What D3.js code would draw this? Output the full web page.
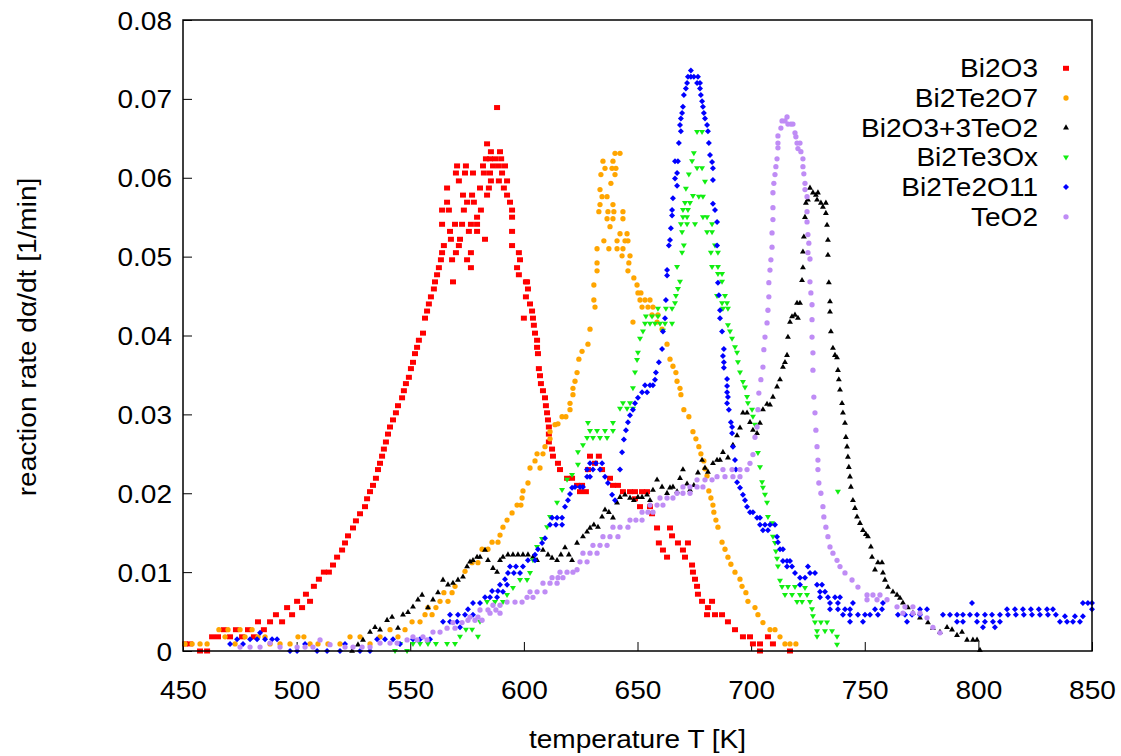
<!DOCTYPE html>
<html>
<head>
<meta charset="utf-8">
<script src="https://cdn.jsdelivr.net/npm/d3@7"></script>
<style>
  html, body { margin: 0; padding: 0; background: #fff; }
  svg { display: block; }
  text { font-family: "Liberation Sans", Arial, Helvetica, sans-serif; fill: #000; }
</style>
</head>
<body>
<svg id="chart" width="1121" height="756"></svg>
<script>
// ---------------- DATA ----------------
const xTicks = [450, 500, 550, 600, 650, 700, 750, 800, 850];
const yTicks = [0, 0.01, 0.02, 0.03, 0.04, 0.05, 0.06, 0.07, 0.08];
const xTitle = "temperature T [K]";
const yTitle = "reaction rate dα/dt [1/min]";
const seriesNames = ["Bi2O3", "Bi2Te2O7", "Bi2O3+3TeO2", "Bi2Te3Ox", "Bi2Te2O11", "TeO2"];

// [T in K, rate in 1/min]
const bi2o3 = [[450.9,0.0009],[453.1,0.0009],[457.5,0],[460.6,0],[462.8,0.0018],[465.4,0.0018],[468.0,0.0027],[470.7,0.0018],[473.3,0.0027],[476.0,0.0018],[478.6,0.0027],[481.2,0.0018],[483.0,0.0037],[485.6,0.0027],[488.3,0.0037],[490.9,0.0046],[493.6,0.0037],[495.8,0.0055],[498.0,0.0046],[500.2,0.0063],[502.4,0.0055],[504.1,0.0072],[505.9,0.0063],[507.6,0.0082],[509.8,0.0091],[512.0,0.0100],[514.2,0.0100],[516.0,0.0109],[517.8,0.0119],[520.0,0.0128],[521.3,0.0137],[522.6,0.0146],[524.8,0.0156],[526.1,0.0165],[527.9,0.0174],[530.1,0.0183],[531.0,0.0193],[532.3,0.0202],[533.6,0.0210],[534.9,0.0219],[535.8,0.0230],[536.7,0.0238],[537.6,0.0247],[538.4,0.0256],[539.3,0.0265],[540.2,0.0275],[541.1,0.0284],[542.4,0.0293],[543.7,0.0302],[544.6,0.0311],[546.4,0.0321],[547.2,0.0330],[548.1,0.0339],[549.4,0.0347],[550.3,0.0358],[551.2,0.0366],[552.1,0.0377],[553.0,0.0385],[553.8,0.0394],[555.6,0.0403],[556.5,0.0422],[557.4,0.0431],[558.2,0.0440],[559.1,0.0449],[560.4,0.0459],[560.9,0.0468],[561.8,0.0477],[562.6,0.0486],[563.5,0.0496],[564.0,0.0505],[564.8,0.0514],
[567.9,0.0522],[571.9,0.0522],[582.9,0.0522],[571.4,0.0514],[594.8,0.0514],[570.1,0.0505],[576.7,0.0505],[597.8,0.0505],[568.4,0.0496],[575.0,0.0496],[598.3,0.0496],[576.7,0.0486],[597.0,0.0486],[597.8,0.0477],[568.8,0.0468],[600.9,0.0468],[601.8,0.0459],[567.5,0.0532],[575.8,0.0532],[579.4,0.0532],[594.8,0.0532],[564.0,0.0541],[569.7,0.0541],[572.8,0.0541],[576.7,0.0541],[579.4,0.0541],[579.4,0.0550],[594.8,0.0550],[564.0,0.0559],[567.0,0.0559],[573.6,0.0559],[581.1,0.0559],[594.8,0.0559],[566.2,0.0569],[575.0,0.0569],[578.0,0.0569],[593.9,0.0569],[573.2,0.0578],[577.2,0.0578],[583.8,0.0578],[592.6,0.0578],[566.2,0.0587],[580.7,0.0587],[584.6,0.0587],[591.2,0.0587],[571.4,0.0596],[585.5,0.0596],[589.0,0.0596],[592.6,0.0596],[570.1,0.0606],[574.1,0.0606],[577.6,0.0606],[582.4,0.0606],[585.1,0.0606],[590.4,0.0606],[570.6,0.0615],[574.5,0.0615],[582.0,0.0615],[586.4,0.0615],[589.0,0.0615],[591.7,0.0615],[583.3,0.0624],[585.1,0.0624],[587.3,0.0624],[590.0,0.0624],[585.5,0.0633],[589.5,0.0633],[583.8,0.0643],[588.2,0.0689],
[601.4,0.0468],[600.9,0.0449],[602.7,0.0440],[603.6,0.0431],[600.0,0.0422],[604.0,0.0422],[604.4,0.0413],[604.9,0.0403],[605.8,0.0394],[605.8,0.0385],[606.2,0.0377],[606.6,0.0358],[607.1,0.0349],[607.5,0.0339],[608.4,0.0330],[609.3,0.0321],[609.7,0.0311],[610.2,0.0302],[610.6,0.0293],[611.0,0.0284],[611.0,0.0275],[611.0,0.0265],[612.4,0.0256],[612.8,0.0247],[615.0,0.0238],[615.9,0.0230],[619.0,0.0219],[621.2,0.0219],[623.4,0.0210],[625.6,0.0210],[624.7,0.0202],[627.3,0.0202],[629.1,0.0247],[633.0,0.0247],[631.3,0.0238],[628.2,0.0230],[634.4,0.0230],[637.9,0.0219],[639.2,0.0210],[641.4,0.0210],[643.6,0.0202],[646.7,0.0202],[648.9,0.0202],[652.0,0.0202],[654.2,0.0202],[648.9,0.0193],[651.1,0.0183],[655.5,0.0183],[656.4,0.0174],[658.6,0.0156],[664.3,0.0156],[665.2,0.0146],[659.4,0.0137],[667.8,0.0137],[672.2,0.0137],[661.2,0.0128],[670.0,0.0128],[663.0,0.0119],[670.9,0.0119],[674.0,0.0109],[674.4,0.0100],[675.3,0.0091],[676.2,0.0082],[676.6,0.0072],[678.4,0.0063],[682.8,0.0063],[681.0,0.0055],[680.6,0.0046],[684.1,0.0046],[687.2,0.0046],[689.8,0.0037],[692.9,0.0027],[696.4,0.0018],[699.5,0.0018],[707.4,0.0018],[700.8,0.0009],[703.9,0.0009],[709.6,0.0009],[703.9,0],[717.1,0]];

const bi2te2o7 = [[450.9,0.0009],[454.0,0.0009],[457.5,0.0009],[460.6,0.0009],[465.8,0.0027],[468.5,0.0018],[469.8,0.0027],[472.9,0.0009],[475.1,0.0027],[477.3,0.0018],[480.4,0.0027],[483.0,0.0018],[486.1,0.0018],[488.3,0.0009],[492.7,0.0009],[497.1,0.0009],[500.6,0.0018],[503.2,0.0018],[505.9,0.0009],[509.4,0.0009],[513.8,0.0009],[519.1,0.0009],[523.5,0.0018],[527.9,0.0018],[532.3,0.0009],[536.7,0.0018],[541.1,0.0027],[544.6,0.0018],[547.7,0.0027],[550.8,0.0037],[554.3,0.0037],[556.5,0.0046],[559.6,0.0046],[557.8,0.0055],[561.3,0.0055],[563.1,0.0063],[566.6,0.0063],[564.8,0.0074],[568.4,0.0074],[569.7,0.0082],[574.1,0.0101],[577.2,0.0112],[579.8,0.0112],[581.6,0.0129],[584.2,0.0129],[586.0,0.0138],[588.6,0.0138],[589.5,0.0147],[590.8,0.0157],[592.6,0.0166],[594.8,0.0175],[597.0,0.0185],[598.7,0.0185],[599.2,0.0194],[599.6,0.0203],[601.8,0.0213],[602.7,0.0232],[604.9,0.0241],[605.8,0.0250],[607.1,0.0232],[608.4,0.0250],[609.3,0.0259],[611.5,0.0278],[611.5,0.0269],[613.7,0.0287],[615.0,0.0288],[616.8,0.0297],[618.5,0.0297],[620.3,0.0306],[620.3,0.0314],[621.6,0.0325],[621.6,0.0333],[622.5,0.0342],[623.4,0.0353],[624.2,0.0370],[625.6,0.0380],[628.2,0.0389],[629.1,0.0408],[630.8,0.0445],[630.8,0.0464],[631.3,0.0436],[632.2,0.0482],[632.2,0.0492],[632.2,0.0510],[633.0,0.0557],[633.5,0.0566],[633.5,0.0585],[633.9,0.0604],[634.4,0.0576],[634.8,0.0621],[635.2,0.0520],[635.7,0.0612],[636.6,0.0548],[636.6,0.0576],[637.0,0.0557],[637.4,0.0510],[637.9,0.0538],[638.3,0.0593],[638.8,0.0612],[639.2,0.0621],[639.2,0.0566],[639.2,0.0548],[639.6,0.0557],[640.1,0.0631],[640.1,0.0604],[640.5,0.0612],[641.0,0.0520],[641.0,0.0510],[642.3,0.0631],[642.3,0.0529],[643.2,0.0501],[643.6,0.0557],[643.6,0.0548],[643.6,0.0510],[644.5,0.0520],[645.4,0.0529],[645.8,0.0520],[645.8,0.0482],[646.2,0.0492],[646.7,0.0501],[648.0,0.0417],[648.4,0.0473],[649.8,0.0464],[650.2,0.0454],[651.5,0.0454],[651.1,0.0445],[653.3,0.0445],[655.5,0.0445],[652.0,0.0436],[654.6,0.0436],[656.8,0.0436],[656.4,0.0426],[659.0,0.0426],[658.6,0.0417],[660.8,0.0408],[663.0,0.0389],[664.3,0.0370],[665.6,0.0361],[666.9,0.0353],[667.4,0.0342],[668.7,0.0333],[669.1,0.0325],[670.4,0.0306],[672.6,0.0297],[674.4,0.0278],[675.7,0.0269],[677.0,0.0259],[677.9,0.0250],[679.2,0.0241],[679.7,0.0231],[680.6,0.0222],[681.4,0.0203],[682.3,0.0194],[683.2,0.0185],[683.6,0.0176],[684.5,0.0166],[685.4,0.0157],[687.2,0.0138],[688.5,0.0129],[689.8,0.0119],[691.1,0.0110],[692.9,0.0100],[695.1,0.0091],[696.0,0.0082],[697.7,0.0074],[698.6,0.0063],[701.7,0.0055],[703.0,0.0046],[705.2,0.0036],[708.3,0.0027],[710.5,0.0027],[712.7,0.0018],[714.9,0.0009],[717.1,0.0009],[719.7,0.0009]];

const bi2o3_3teo2 = [[524.4,0],[527.0,0.0008],[529.2,0.0014],[532.3,0.0024],[534.5,0.0030],[536.7,0.0027],[539.8,0.0039],[542.0,0.0043],[544.6,0.0029],[546.8,0.0046],[549.0,0.0049],[551.2,0.0056],[553.4,0.0065],[555.2,0.0071],[557.8,0.0055],[560.0,0.0065],[562.2,0.0074],[564.4,0.0090],[566.6,0.0084],[568.8,0.0086],[571.0,0.0090],[573.2,0.0094],[575.0,0.0107],[576.3,0.0113],[577.6,0.0115],[579.4,0.0119],[580.7,0.0119],[582.9,0.0128],[584.2,0.0115],[586.4,0.0105],[588.2,0.0100],[589.5,0.0115],[590.8,0.0119],[593.0,0.0122],[595.2,0.0122],[597.4,0.0122],[599.6,0.0122],[601.8,0.0122],[604.0,0.0119],[605.8,0.0115],[608.4,0.0128],[610.6,0.0122],[612.4,0.0118],[614.6,0.0115],[616.3,0.0122],[618.1,0.0131],[619.8,0.0122],[621.2,0.0115],[623.4,0.0137],[626.0,0.0145],[627.8,0.0151],[629.1,0.0156],[630.8,0.0160],[632.6,0.0157],[634.4,0.0170],[635.7,0.0179],[637.4,0.0176],[639.2,0.0169],[641.0,0.0188],[642.3,0.0195],[644.5,0.0198],[646.7,0.0194],[648.4,0.0191],[650.2,0.0195],[652.0,0.0195],[654.2,0.0198],[655.5,0.0191],[656.8,0.0204],[658.6,0.0217],[660.8,0.0208],[663.0,0.0200],[664.3,0.0207],[665.6,0.0208],[667.4,0.0202],[668.7,0.0219],[670.0,0.0230],[671.8,0.0212],[673.1,0.0204],[674.8,0.0210],[676.6,0.0226],[678.4,0.0242],[679.7,0.0232],[681.0,0.0227],[683.2,0.0238],[685.0,0.0242],[686.3,0.0242],[687.6,0.0252],[689.8,0.0245],[692.0,0.0261],[693.8,0.0273],[695.1,0.0283],[696.4,0.0302],[698.2,0.0302],[699.5,0.0290],[700.8,0.0280],[702.6,0.0276],[703.9,0.0289],[705.2,0.0306],[707.0,0.0313],[708.3,0.0312],[709.6,0.0322],[711.4,0.0335],[712.7,0.0344],[714.0,0.0360],[714.9,0.0366],[715.8,0.0375],[716.2,0.0398],[717.1,0.0417],[718.0,0.0424],[719.3,0.0426],[720.6,0.0422],[720.2,0.0441],[721.5,0.0441],[722.4,0.0470],[722.8,0.0486],[722.8,0.0506],[723.2,0.0525],[723.7,0.0550],[724.1,0.0568],[725.0,0.0572],[725.9,0.0587],[727.2,0.0581],[728.5,0.0578],[729.4,0.0581],[729.0,0.0572],[730.7,0.0568],[731.6,0.0563],[732.9,0.0568],[732.9,0.0555],[733.4,0.0540],[733.8,0.0521],[733.8,0.0502],[734.2,0.0467],[734.7,0.0443],[734.7,0.0430],[735.1,0.0405],[736.0,0.0384],[736.9,0.0375],[737.8,0.0372],[738.2,0.0356],[738.6,0.0344],[739.1,0.0331],[740.0,0.0314],[740.4,0.0302],[741.3,0.0289],[741.7,0.0271],[742.2,0.0259],[742.6,0.0246],[743.0,0.0233],[743.5,0.0221],[743.9,0.0208],[744.8,0.0191],[745.7,0.0181],[746.6,0.0170],[747.9,0.0162],[749.2,0.0153],[750.5,0.0148],[751.4,0.0145],[752.7,0.0132],[753.2,0.0119],[754.5,0.0103],[755.8,0.0112],[757.6,0.0112],[758.0,0.0099],[758.9,0.0090],[760.2,0.0081],[762.4,0.0075],[764.2,0.0071],[765.5,0.0067],[766.8,0.0061],[769.0,0.0055],[771.2,0.0048],[774.3,0.0042],[777.8,0.0036],[780.0,0.0029],[783.1,0.0024],[786.2,0.0030],[788.4,0.0027],[790.6,0.0020],[792.8,0.0024],[795.0,0.0014],[797.6,0.0014],[799.4,0.0014],[800.7,0.0001]];

const bi2te3ox = [[543.3,0],[545.5,0.0009],[548.6,0],[551.2,0.0009],[554.3,0.0009],[557.8,0.0009],[561.3,0.0009],[566.2,0.0009],[569.7,0.0009],[571.9,0.0018],[574.5,0.0027],[577.2,0.0027],[579.8,0.0018],[580.7,0.0037],[583.8,0.0062],[587.3,0.0062],[590.8,0.0062],[592.6,0.0071],[595.2,0.0080],[598.3,0.0090],[601.4,0.0090],[602.7,0.0099],[604.0,0.0115],[605.8,0.0132],[608.0,0.0142],[610.2,0.0157],[611.5,0.0170],[614.6,0.0188],[616.8,0.0204],[619.0,0.0217],[621.2,0.0223],[623.8,0.0236],[623.8,0.0252],[626.0,0.0261],[627.8,0.0270],[630.4,0.0270],[633.5,0.0270],[636.6,0.0270],[629.1,0.0279],[632.2,0.0279],[635.7,0.0279],[639.2,0.0279],[628.2,0.0289],[639.2,0.0289],[642.3,0.0307],[645.4,0.0307],[648.0,0.0307],[643.6,0.0314],[646.7,0.0314],[648.0,0.0333],[648.9,0.0353],[649.8,0.0369],[650.2,0.0378],[651.1,0.0396],[652.4,0.0405],[653.3,0.0415],[655.5,0.0415],[657.7,0.0415],[659.9,0.0415],[662.1,0.0415],[665.2,0.0415],[653.7,0.0424],[656.4,0.0424],[659.0,0.0424],[661.2,0.0406],[659.0,0.0434],[662.5,0.0434],[665.2,0.0434],[666.5,0.0441],[666.9,0.0450],[667.8,0.0459],[668.7,0.0468],[667.4,0.0487],[669.6,0.0505],[670.4,0.0514],[669.6,0.0531],[669.1,0.0541],[671.8,0.0541],[675.3,0.0541],[670.0,0.0550],[671.8,0.0550],[670.0,0.0559],[672.2,0.0559],[670.9,0.0568],[673.1,0.0568],[674.4,0.0577],[671.3,0.0586],[672.6,0.0604],[674.0,0.0621],[674.8,0.0631],[676.2,0.0612],[678.4,0.0612],[676.2,0.0658],[678.4,0.0658],[677.0,0.0576],[678.8,0.0576],[679.7,0.0595],[678.8,0.0550],[680.6,0.0550],[682.8,0.0541],[680.6,0.0531],[682.8,0.0531],[684.1,0.0514],[682.3,0.0505],[685.4,0.0505],[682.8,0.0487],[685.4,0.0487],[685.4,0.0478],[687.2,0.0478],[687.2,0.0468],[685.0,0.0450],[688.5,0.0450],[687.2,0.0441],[689.4,0.0441],[687.6,0.0434],[689.8,0.0434],[689.8,0.0413],[690.7,0.0405],[691.6,0.0396],[692.9,0.0385],[693.8,0.0378],[694.2,0.0366],[695.1,0.0353],[696.4,0.0341],[697.3,0.0334],[698.2,0.0322],[698.6,0.0314],[700.4,0.0306],[700.8,0.0297],[701.7,0.0287],[703.0,0.0251],[703.9,0.0233],[704.8,0.0214],[705.2,0.0207],[706.1,0.0198],[707.0,0.0188],[707.4,0.0170],[709.2,0.0162],[709.6,0.0145],[710.5,0.0137],[710.9,0.0126],[711.4,0.0117],[711.8,0.0107],[712.7,0.0089],[713.6,0.0081],[716.2,0.0081],[719.3,0.0081],[714.9,0.0071],[718.0,0.0071],[721.5,0.0071],[720.2,0.0062],[722.4,0.0062],[723.7,0.0080],[724.6,0.0071],[725.9,0.0062],[726.8,0.0053],[727.2,0.0044],[728.1,0.0036],[730.7,0.0036],[733.4,0.0036],[729.0,0.0025],[732.5,0.0025],[735.6,0.0025],[729.0,0.0018],[737.8,0.0018],[737.8,0.0008],[738.2,0.0202]];

const bi2te2o11 = [[470.7,0.0009],[473.8,0.0015],[476.4,0.0009],[479.5,0.0015],[482.6,0.0015],[483.9,0.0023],[486.1,0.0015],[489.2,0.0015],[491.4,0.0015],[497.1,0],[500.2,0],[503.7,0.0009],[509.0,0],[513.4,0],[519.1,0],[521.3,0.0009],[527.9,0],[532.3,0],[535.4,0.0015],[538.9,0.0015],[542.4,0.0015],[545.5,0.0009],[551.2,0.0015],[554.3,0.0015],[558.7,0.0015],[564.4,0.0037],[567.5,0.0037],[570.6,0.0037],[567.5,0.0046],[571.0,0.0046],[574.1,0.0046],[577.6,0.0046],[571.9,0.0030],[575.4,0.0053],[577.6,0.0061],[580.7,0.0061],[582.9,0.0068],[585.1,0.0068],[588.2,0.0068],[586.0,0.0076],[588.6,0.0076],[590.8,0.0075],[589.5,0.0084],[592.6,0.0084],[591.7,0.0091],[593.0,0.0099],[595.6,0.0099],[598.3,0.0099],[593.9,0.0107],[596.5,0.0107],[599.6,0.0107],[601.8,0.0115],[604.9,0.0115],[604.9,0.0122],[606.2,0.0129],[608.0,0.0137],[609.3,0.0143],[611.5,0.0160],[614.1,0.0160],[616.8,0.0160],[612.4,0.0169],[614.6,0.0169],[616.8,0.0169],[618.1,0.0183],[619.4,0.0191],[620.3,0.0199],[621.2,0.0207],[622.5,0.0208],[624.7,0.0208],[626.0,0.0208],[627.8,0.0221],[629.1,0.0221],[627.8,0.0230],[630.4,0.0230],[633.5,0.0230],[629.1,0.0238],[631.7,0.0238],[634.4,0.0238],[635.7,0.0221],[637.0,0.0213],[638.8,0.0198],[640.1,0.0191],[642.3,0.0230],[643.2,0.0252],[644.0,0.0268],[644.9,0.0280],[645.8,0.0290],[646.7,0.0299],[648.0,0.0306],[648.9,0.0314],[650.2,0.0321],[652.0,0.0328],[654.2,0.0328],[653.3,0.0337],[655.5,0.0337],[656.8,0.0337],[657.7,0.0344],[658.1,0.0353],[659.4,0.0366],[660.8,0.0383],[661.2,0.0405],[662.1,0.0422],[662.5,0.0445],[663.0,0.0476],[663.0,0.0483],[663.8,0.0514],[664.3,0.0521],[664.7,0.0536],[665.2,0.0552],[665.2,0.0559],[665.6,0.0574],[666.5,0.0599],[667.4,0.0606],[667.4,0.0590],[666.5,0.0621],[667.8,0.0621],[668.2,0.0644],[668.7,0.0667],[669.1,0.0659],[669.1,0.0675],[669.6,0.0682],[670.0,0.0690],[670.4,0.0705],[671.3,0.0713],[671.8,0.0720],[672.2,0.0728],[673.5,0.0728],[674.8,0.0728],[676.6,0.0728],[673.5,0.0736],[676.2,0.0720],[677.5,0.0720],[677.5,0.0713],[677.9,0.0705],[678.4,0.0697],[678.8,0.0690],[679.2,0.0682],[679.7,0.0675],[680.6,0.0667],[681.0,0.0659],[681.4,0.0644],[681.9,0.0629],[682.8,0.0620],[683.2,0.0612],[683.2,0.0597],[683.2,0.0567],[684.1,0.0559],[685.0,0.0544],[685.0,0.0514],[685.4,0.0467],[685.8,0.0451],[686.3,0.0432],[686.3,0.0422],[687.2,0.0405],[688.0,0.0383],[687.6,0.0374],[688.0,0.0366],[688.0,0.0359],[689.4,0.0345],[689.4,0.0336],[689.4,0.0328],[689.8,0.0322],[689.4,0.0314],[690.2,0.0306],[691.1,0.0290],[691.6,0.0284],[691.6,0.0276],[692.0,0.0259],[692.9,0.0242],[693.3,0.0230],[693.8,0.0214],[695.1,0.0207],[696.4,0.0198],[697.3,0.0191],[698.2,0.0183],[699.5,0.0176],[700.8,0.0176],[702.6,0.0169],[703.9,0.0169],[703.9,0.0160],[706.1,0.0160],[708.3,0.0160],[710.5,0.0160],[705.2,0.0153],[707.4,0.0153],[711.4,0.0145],[711.8,0.0138],[712.7,0.0129],[714.0,0.0129],[714.0,0.0114],[715.8,0.0114],[717.1,0.0114],[715.8,0.0107],[718.0,0.0107],[719.3,0.0099],[721.5,0.0093],[723.7,0.0093],[725.0,0.0107],[725.9,0.0099],[728.1,0.0099],[721.5,0.0084],[729.0,0.0084],[731.2,0.0084],[730.3,0.0075],[732.5,0.0075],[730.3,0.0068],[733.8,0.0068],[736.9,0.0068],[739.1,0.0068],[734.7,0.0061],[738.2,0.0061],[744.8,0.0061],[734.7,0.0053],[738.2,0.0053],[741.3,0.0053],[743.5,0.0053],[740.4,0.0046],[743.5,0.0046],[747.0,0.0046],[750.1,0.0046],[743.5,0.0037],[749.2,0.0037],[754.5,0.0053],[757.6,0.0053],[752.3,0.0046],[755.8,0.0046],[758.0,0.0061],[764.6,0.0046],[767.7,0.0046],[770.8,0.0046],[774.3,0.0046],[768.6,0.0037],[774.3,0.0053],[777.4,0.0053],[784.4,0.0046],[787.5,0.0046],[790.6,0.0046],[793.2,0.0046],[796.3,0.0046],[790.6,0.0037],[793.2,0.0037],[797.2,0.0061],[799.4,0.0037],[802.9,0.0037],[806.4,0.0037],[809.5,0.0037],[802.0,0.0030],[807.3,0.0030],[799.4,0.0046],[802.9,0.0046],[806.0,0.0046],[809.5,0.0046],[813.0,0.0046],[816.5,0.0046],[820.0,0.0046],[823.6,0.0046],[827.1,0.0046],[830.6,0.0046],[834.1,0.0046],[812.6,0.0053],[816.1,0.0053],[819.6,0.0053],[823.1,0.0053],[826.6,0.0053],[830.2,0.0053],[832.8,0.0053],[835.9,0.0037],[839.0,0.0037],[841.6,0.0037],[844.7,0.0037],[838.1,0.0044],[842.5,0.0044],[846.0,0.0044],[846.0,0.0061],[848.2,0.0061],[850.0,0.0061],[850.0,0.0053]];

const teo2 = [[475.1,0.0005],[479.5,0.0005],[483.9,0.0005],[488.3,0.0010],[492.7,0.0005],[500.2,0.0005],[503.7,0.0005],[507.2,0.0005],[510.3,0.0014],[514.7,0.0008],[521.3,0.0005],[524.8,0.0005],[528.8,0.0005],[532.3,0.0005],[536.7,0.0010],[541.1,0.0010],[544.2,0.0010],[548.6,0.0014],[553.0,0.0014],[557.4,0.0014],[551.2,0.0018],[555.6,0.0018],[560.0,0.0024],[563.1,0.0024],[566.2,0.0029],[569.7,0.0029],[568.8,0.0036],[572.8,0.0036],[575.4,0.0039],[578.5,0.0039],[581.6,0.0039],[576.3,0.0043],[579.8,0.0043],[580.7,0.0052],[584.2,0.0052],[587.7,0.0052],[585.1,0.0048],[589.5,0.0048],[586.4,0.0058],[589.5,0.0058],[592.6,0.0062],[596.1,0.0062],[599.2,0.0062],[601.4,0.0068],[604.0,0.0068],[602.7,0.0075],[605.8,0.0075],[609.3,0.0075],[608.4,0.0086],[611.5,0.0086],[614.6,0.0086],[612.4,0.0093],[615.0,0.0093],[617.2,0.0093],[615.9,0.0100],[619.0,0.0100],[621.6,0.0100],[623.4,0.0103],[624.7,0.0113],[627.8,0.0113],[626.0,0.0124],[629.1,0.0124],[632.2,0.0124],[630.4,0.0134],[633.5,0.0134],[636.6,0.0134],[634.8,0.0145],[637.9,0.0145],[641.4,0.0145],[639.2,0.0157],[642.3,0.0157],[645.8,0.0157],[646.7,0.0166],[649.3,0.0166],[652.0,0.0166],[652.0,0.0176],[654.6,0.0176],[656.8,0.0176],[655.5,0.0185],[658.6,0.0185],[661.2,0.0185],[659.9,0.0194],[663.0,0.0194],[665.6,0.0194],[667.4,0.0200],[670.0,0.0200],[673.1,0.0200],[670.0,0.0208],[673.1,0.0208],[676.2,0.0208],[678.8,0.0208],[676.2,0.0217],[679.7,0.0217],[682.8,0.0217],[685.0,0.0221],[688.5,0.0221],[692.0,0.0221],[695.1,0.0221],[687.6,0.0230],[691.6,0.0230],[695.1,0.0230],[698.2,0.0230],[699.5,0.0238],[700.8,0.0249],[701.7,0.0271],[702.6,0.0284],[703.0,0.0306],[703.4,0.0327],[704.3,0.0344],[705.2,0.0360],[705.6,0.0382],[706.1,0.0398],[707.0,0.0416],[707.4,0.0432],[707.8,0.0449],[707.8,0.0467],[708.3,0.0483],[708.7,0.0496],[709.2,0.0512],[709.2,0.0530],[709.6,0.0547],[709.6,0.0562],[709.6,0.0581],[710.0,0.0593],[710.5,0.0604],[710.9,0.0614],[711.4,0.0624],[711.8,0.0638],[711.8,0.0644],[711.8,0.0653],[713.1,0.0663],[713.6,0.0672],[714.9,0.0672],[715.8,0.0677],[716.2,0.0668],[717.5,0.0668],[718.4,0.0668],[719.3,0.0657],[719.7,0.0652],[720.2,0.0644],[721.5,0.0644],[720.6,0.0637],[721.9,0.0633],[722.8,0.0624],[722.8,0.0614],[723.2,0.0605],[723.7,0.0593],[723.7,0.0585],[724.6,0.0576],[724.6,0.0557],[724.6,0.0544],[725.0,0.0528],[725.4,0.0517],[725.0,0.0505],[725.9,0.0497],[725.9,0.0468],[726.3,0.0454],[726.8,0.0439],[726.8,0.0420],[726.8,0.0398],[727.2,0.0378],[727.2,0.0356],[727.6,0.0322],[728.1,0.0302],[728.5,0.0280],[729.0,0.0259],[729.4,0.0242],[729.4,0.0230],[729.8,0.0213],[730.7,0.0200],[731.6,0.0183],[732.0,0.0170],[732.9,0.0157],[733.8,0.0145],[734.7,0.0132],[736.0,0.0124],[737.8,0.0115],[739.1,0.0107],[741.3,0.0099],[744.4,0.0090],[747.0,0.0081],[751.0,0.0071],[753.6,0.0071],[756.7,0.0071],[751.0,0.0065],[755.4,0.0065],[759.8,0.0065],[764.2,0.0056],[767.7,0.0056],[771.2,0.0056],[766.8,0.0048],[771.2,0.0048],[774.3,0.0048],[777.4,0.0042],[780.0,0.0030],[783.1,0.0023]];

const seriesData = [bi2o3, bi2te2o7, bi2o3_3teo2, bi2te3ox, bi2te2o11, teo2];
const seriesColors = ["#ff0000", "#ffa500", "#000000", "#11ee11", "#0000ff", "#bf8cf5"];
const seriesShapes = ["square", "circle", "triangle", "triangleDown", "diamond", "circle"];

// ---------------- CHART ----------------
const svg = d3.select("#chart");
const W = 1121, H = 756;
const margin = {left: 183, right: 1121 - 1092, top: 20, bottom: 756 - 651};
const x = d3.scaleLinear().domain([450, 850]).range([margin.left, W - margin.right]);
const y = d3.scaleLinear().domain([0, 0.08]).range([H - margin.bottom, margin.top]);
const FS = 25.5, SX = 1.1;

svg.append("rect").attr("width", W).attr("height", H).attr("fill", "#fff");

function markerPath(shape) {
  switch (shape) {
    case "square": return "M-3,-2.5h6v5h-6z";
    case "circle": return d3.symbol(d3.symbolCircle, 22)();
    case "triangle": return d3.symbol(d3.symbolTriangle, 15)();
    case "triangleDown": return "M-3,-2L3,-2L0,3Z";
    case "diamond": return "M0,-3L3,0L0,3L-3,0Z";
  }
}

// Axes
const gx = svg.append("g").attr("transform", `translate(0,${y(0)})`)
  .call(d3.axisBottom(x).tickValues(xTicks).tickSizeInner(-9).tickSizeOuter(0).tickPadding(0).tickFormat(d3.format("d")));
gx.select(".domain").remove();
gx.selectAll(".tick line").attr("stroke", "#000").attr("stroke-width", 1);
gx.selectAll(".tick text").attr("y", 0).attr("dy", 0)
  .attr("transform", `translate(0,48) scale(${SX},1)`)
  .style("font-size", FS + "px").style("font-family", "'Liberation Sans', Arial, sans-serif").attr("fill", "#000");

const gy = svg.append("g").attr("transform", `translate(${x(450)},0)`)
  .call(d3.axisLeft(y).tickValues(yTicks).tickSizeInner(-9).tickSizeOuter(0).tickPadding(0)
    .tickFormat(d => d === 0 ? "0" : d3.format(".2f")(d)));
gy.select(".domain").remove();
gy.selectAll(".tick line").attr("stroke", "#000").attr("stroke-width", 1);
gy.selectAll(".tick text").attr("x", 0).attr("dy", 0)
  .attr("transform", `translate(-11,9) scale(${SX},1)`)
  .style("font-size", FS + "px").style("font-family", "'Liberation Sans', Arial, sans-serif").attr("fill", "#000");

// Data points
const plot = svg.append("g");
seriesData.forEach((data, i) => {
  plot.append("g").selectAll("path").data(data).join("path")
    .attr("d", markerPath(seriesShapes[i]))
    .attr("transform", d => `translate(${x(d[0])},${y(d[1])})`)
    .attr("fill", seriesColors[i]);
});

// Frame
svg.append("rect")
  .attr("x", x(450)).attr("y", y(0.08))
  .attr("width", x(850) - x(450)).attr("height", y(0) - y(0.08))
  .attr("fill", "none").attr("stroke", "#000").attr("stroke-width", 1.5);

// Titles
svg.append("text").attr("text-anchor", "middle")
  .attr("transform", `translate(${(x(450) + x(850)) / 2},748) scale(${SX},1)`)
  .style("font-size", FS + "px").text(xTitle);
svg.append("text").attr("text-anchor", "middle")
  .attr("transform", `translate(36,337) rotate(-90) scale(${SX},1)`)
  .style("font-size", FS + "px").text(yTitle);

// Legend
const leg = svg.append("g");
seriesNames.forEach((name, i) => {
  const cy = 68.3 + i * 29.7;
  leg.append("text").attr("text-anchor", "end")
    .attr("transform", `translate(1038,${cy + 9}) scale(${SX},1)`)
    .style("font-size", FS + "px").text(name);
  leg.append("path").attr("d", markerPath(seriesShapes[i]))
    .attr("transform", `translate(1066,${cy})`).attr("fill", seriesColors[i]);
});
</script>
</body>
</html>
